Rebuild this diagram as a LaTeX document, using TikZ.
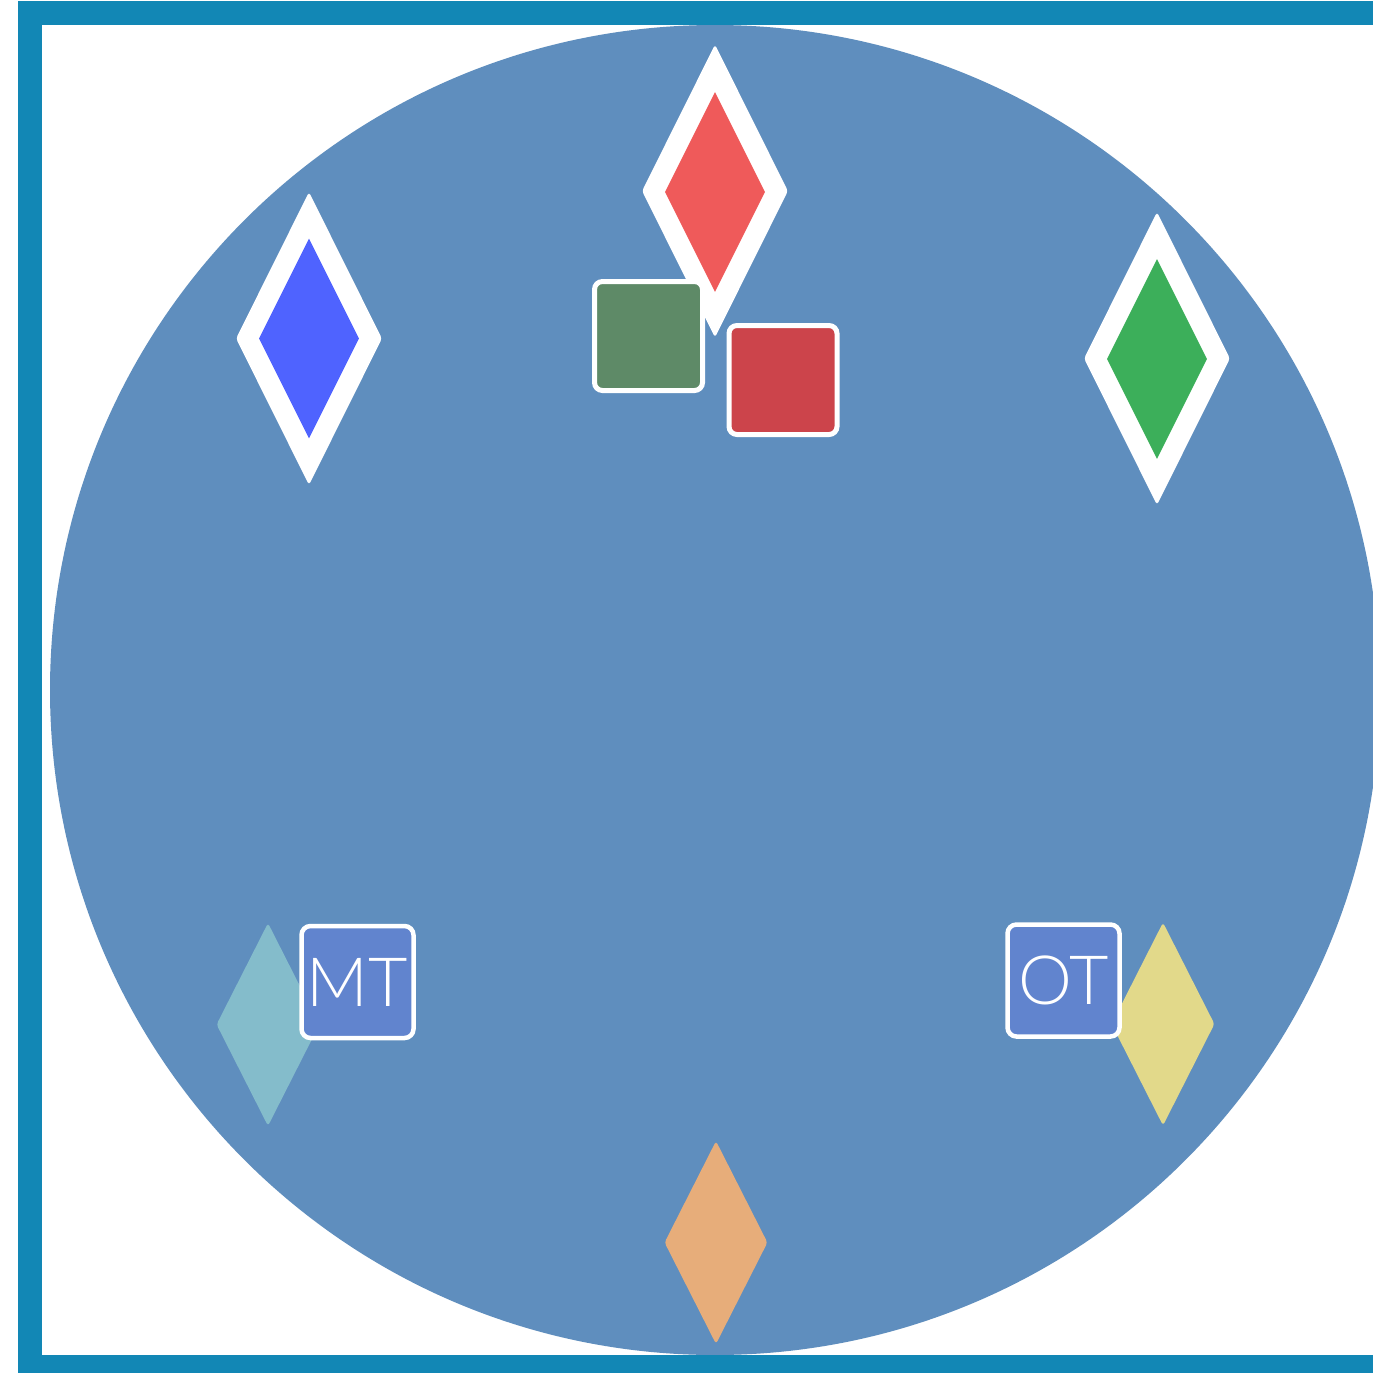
\documentclass[tikz,border=0pt]{standalone}
\usepackage{fontspec}
\newfontfamily\thinfont{Lato Light}
\usetikzlibrary{shapes.geometric}
\definecolor{frameblue}{HTML}{1287B5}
\definecolor{discblue}{HTML}{5F8EBE}
\definecolor{dred}{HTML}{EF5A5A}
\definecolor{dblue}{HTML}{4F63FF}
\definecolor{dgreen}{HTML}{3CAF5A}
\definecolor{sqgreen}{HTML}{5E8A67}
\definecolor{sqred}{HTML}{CC444B}
\definecolor{dcyan}{HTML}{84BCCB}
\definecolor{dyellow}{HTML}{E2D98A}
\definecolor{dorange}{HTML}{E7AD7A}
\definecolor{boxblue}{HTML}{6184CE}
\tikzset{
  outerdia/.style={diamond, inner sep=0pt, fill=white, minimum width=146pt, minimum height=293pt, rounded corners=3pt},
  innerdia/.style={diamond, inner sep=0pt, fill=#1, minimum width=100pt, minimum height=200pt},
  plaindia/.style={diamond, inner sep=0pt, fill=#1, minimum width=103pt, minimum height=203pt, rounded corners=3pt},
  sq/.style={rectangle, fill=#1, draw=white, line width=5pt, rounded corners=8pt, minimum width=108pt, minimum height=109pt, inner sep=0pt},
  tbox/.style={rectangle, fill=boxblue, draw=white, line width=4.5pt, rounded corners=9pt, minimum width=112pt, minimum height=112pt, inner sep=0pt, text=white, font=\thinfont\fontsize{68pt}{68pt}\selectfont}
}
\begin{document}
\begin{tikzpicture}[x=1pt,y=-1pt]
\useasboundingbox (0,0) rectangle (1373,1373);
\clip (0,0) rectangle (1373,1373);
\fill[white] (0,0) rectangle (1373,1373);
% disc
\fill[discblue] (715,690) circle [radius=665pt];
% top red diamond
\node[outerdia] (redout) at (715,191) {};
\node[innerdia=dred] (redin) at (715,192) {};
% blue diamond
\node[outerdia] (blueout) at (309,338.5) {};
\node[innerdia=dblue] (bluein) at (309,338.5) {};
% green diamond
\node[outerdia] (greenout) at (1157,358.5) {};
\node[innerdia=dgreen] (greenin) at (1157,359) {};
% squares
\node[sq=sqgreen] (gsq) at (648.5,336) {};
\node[sq=sqred] (rsq) at (783,380) {};
% lower diamonds
\node[plaindia=dcyan] (cyan) at (268,1024.5) {};
\node[plaindia=dyellow] (yellow) at (1163,1024) {};
\node[plaindia=dorange] (orange) at (716,1242.5) {};
% labelled boxes
\node[tbox] (mt) at (357.5,982) {MT};
\node[tbox] (ot) at (1063.5,980.5) {OT};
% frame
\draw[frameblue, line width=24pt] (30,13) rectangle (1400,1367);
\end{tikzpicture}
\end{document}
